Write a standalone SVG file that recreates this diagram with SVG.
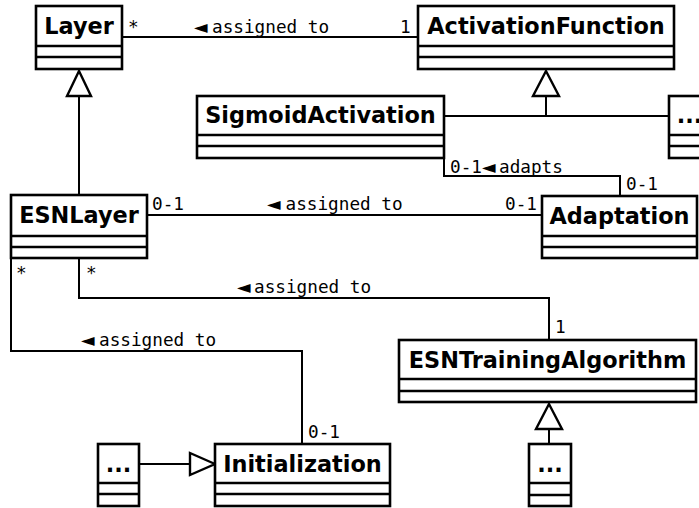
<svg xmlns="http://www.w3.org/2000/svg" width="699" height="508" viewBox="0 0 699 508">
  <style>
    .box { fill: #fff; stroke: #000; stroke-width: 2.6; }
    .sep { stroke: #000; stroke-width: 2.6; fill: none; }
    .name { font-family: "DejaVu Sans", sans-serif; font-weight: bold; font-size: 22.4px; text-anchor: middle; fill: #000; }
    .lbl { font-family: "DejaVu Sans Mono", monospace; font-size: 17.7px; fill: #000; }
    .arr { font-family: "DejaVu Sans", sans-serif; }
    .line { stroke: #000; stroke-width: 2; fill: none; }
    .tri { fill: #fff; stroke: #000; stroke-width: 2.4; stroke-linejoin: miter; }
  </style>
  <rect width="699" height="508" fill="#fff"/>

  <!-- connectors -->
  <g id="connectors">
    <!-- Layer - ActivationFunction -->
    <path class="line" d="M122,37 H418"/>
    <text class="lbl" x="128" y="33">*</text>
    <text class="lbl" y="33"><tspan class="arr" x="194">◄</tspan><tspan x="212">assigned to</tspan></text>
    <text class="lbl" x="400" y="33">1</text>

    <!-- ESNLayer extends Layer -->
    <path class="line" d="M79,96 V195"/>
    <polygon class="tri" points="79,71 67,96 91,96"/>

    <!-- Sigmoid / ... extend ActivationFunction -->
    <path class="line" d="M546,96 V116 M444,116 H669"/>
    <polygon class="tri" points="546,71 533,96 559,96"/>

    <!-- Sigmoid - Adaptation -->
    <path class="line" d="M444,158 V176 H620 V196"/>
    <text class="lbl" y="173"><tspan x="450">0-1</tspan><tspan class="arr" x="482">◄</tspan><tspan x="499">adapts</tspan></text>
    <text class="lbl" x="626" y="190">0-1</text>

    <!-- ESNLayer - Adaptation -->
    <path class="line" d="M147,215 H542"/>
    <text class="lbl" x="152" y="210">0-1</text>
    <text class="lbl" y="210"><tspan class="arr" x="267">◄</tspan><tspan x="285.5">assigned to</tspan></text>
    <text class="lbl" x="505" y="210">0-1</text>

    <!-- ESNLayer - ESNTrainingAlgorithm -->
    <path class="line" d="M79,258 V298 H549 V340"/>
    <text class="lbl" x="86" y="279">*</text>
    <text class="lbl" y="293"><tspan class="arr" x="237">◄</tspan><tspan x="254">assigned to</tspan></text>
    <text class="lbl" x="555" y="333">1</text>

    <!-- ESNLayer - Initialization -->
    <path class="line" d="M11,258 V351 H302 V444"/>
    <text class="lbl" x="16" y="279">*</text>
    <text class="lbl" y="346"><tspan class="arr" x="81">◄</tspan><tspan x="99">assigned to</tspan></text>
    <text class="lbl" x="308" y="438">0-1</text>

    <!-- ... extends Initialization -->
    <path class="line" d="M139,464 H190"/>
    <polygon class="tri" points="215,464 190,453 190,475"/>

    <!-- ... extends ESNTrainingAlgorithm -->
    <path class="line" d="M549,429 V444"/>
    <polygon class="tri" points="549,404 536,429 562,429"/>
  </g>

  <g id="Layer">
    <rect class="box" x="36" y="6" width="86" height="63"/>
    <path class="sep" d="M36,46 H122 M36,57 H122"/>
    <text class="name" x="79" y="34">Layer</text>
  </g>

  <g id="ActivationFunction">
    <rect class="box" x="418" y="6" width="256" height="63"/>
    <path class="sep" d="M418,46 H674 M418,57 H674"/>
    <text class="name" x="546" y="34">ActivationFunction</text>
  </g>

  <g id="SigmoidActivation">
    <rect class="box" x="197" y="96" width="247" height="62"/>
    <path class="sep" d="M197,135 H444 M197,146 H444"/>
    <text class="name" x="320.5" y="123">SigmoidActivation</text>
  </g>

  <g id="OtherActivation">
    <rect class="box" x="669" y="96" width="41" height="62"/>
    <path class="sep" d="M669,135 H710 M669,146 H710"/>
    <text class="name" x="689.5" y="123">...</text>
  </g>

  <g id="ESNLayer">
    <rect class="box" x="11" y="195" width="136" height="63"/>
    <path class="sep" d="M11,236 H147 M11,247 H147"/>
    <text class="name" x="79" y="223">ESNLayer</text>
  </g>

  <g id="Adaptation">
    <rect class="box" x="542" y="196" width="155" height="62"/>
    <path class="sep" d="M542,236 H697 M542,247 H697"/>
    <text class="name" x="619.5" y="224">Adaptation</text>
  </g>

  <g id="ESNTrainingAlgorithm">
    <rect class="box" x="399" y="340" width="297" height="62"/>
    <path class="sep" d="M399,379 H696 M399,391 H696"/>
    <text class="name" x="547.5" y="368">ESNTrainingAlgorithm</text>
  </g>

  <g id="Initialization">
    <rect class="box" x="215" y="444" width="175" height="62"/>
    <path class="sep" d="M215,483 H390 M215,494 H390"/>
    <text class="name" x="302.5" y="472">Initialization</text>
  </g>

  <g id="OtherInitialization">
    <rect class="box" x="98" y="444" width="41" height="62"/>
    <path class="sep" d="M98,483 H139 M98,494 H139"/>
    <text class="name" x="118.5" y="472">...</text>
  </g>

  <g id="OtherTrainingAlgorithm">
    <rect class="box" x="529" y="444" width="42" height="62"/>
    <path class="sep" d="M529,483 H571 M529,495 H571"/>
    <text class="name" x="550" y="472">...</text>
  </g>
</svg>
